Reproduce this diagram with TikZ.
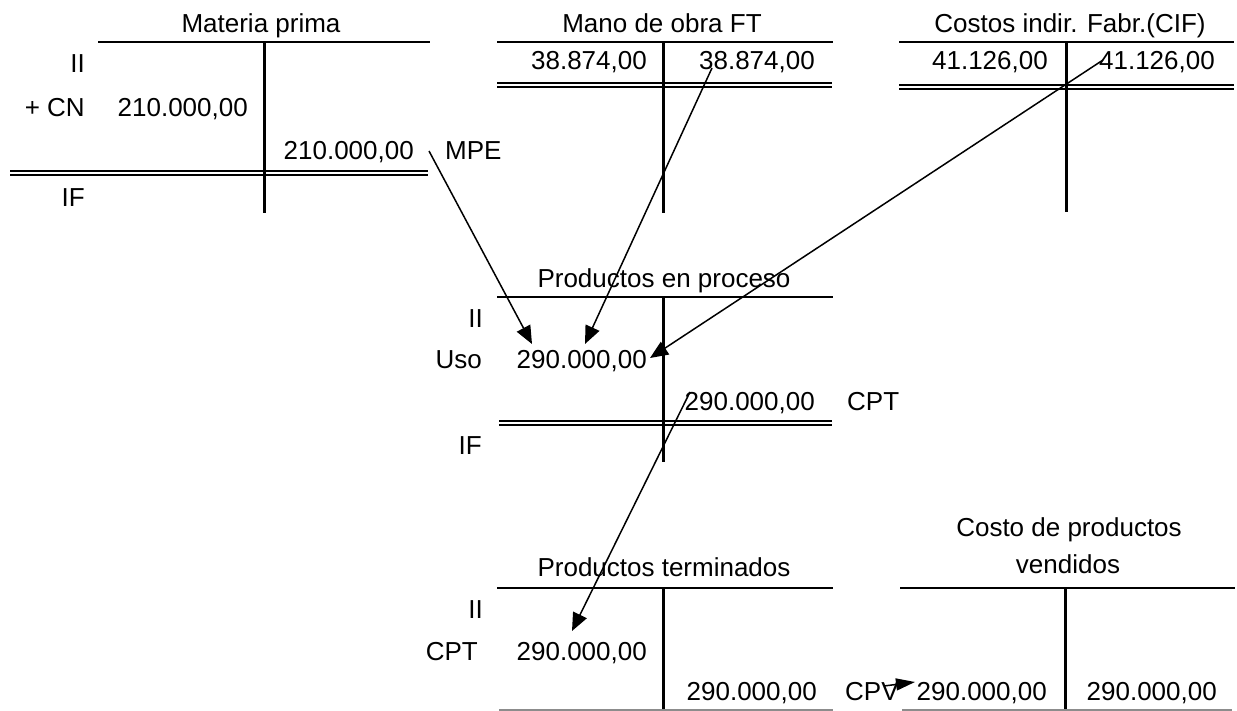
\documentclass[tikz,border=0pt]{standalone}
\usepackage{fontspec}
\setmainfont{Liberation Sans}
\usetikzlibrary{arrows.meta}
\begin{document}
\begin{tikzpicture}[x=1pt,y=-1pt,
  txt/.style={inner sep=0pt,font=\fontsize{26}{31}\selectfont},
  re/.style={txt,anchor=base east},
  lw/.style={txt,anchor=base west},
  ttl/.style={txt,anchor=base},
  topline/.style={line width=2.6pt},
  vline/.style={line width=3pt},
  dbl/.style={line width=1.9pt},
  endline/.style={line width=1.5pt,draw=black!45},
  flow/.style={line width=1.5pt,-{Triangle[length=18pt,width=15pt]}},
  flowsmall/.style={line width=1.5pt,-{Triangle[length=19pt,width=12pt]}}]
\useasboundingbox (0,0) rectangle (1237,711);

% ---------- Materia prima ----------
\node[ttl] (mpT) at (261,33) {Materia prima};
\draw[topline] (98,42) -- (430,42);
\draw[vline] (264,42) -- (264,213);
\draw[dbl] (10,171) -- (428,171);
\draw[dbl] (10,174.8) -- (428,174.8);
\node[re] (mpII) at (85,73) {II};
\node[re] (mpCN) at (85,117) {+ CN};
\node[re] (mpD) at (248,117) {210.000,00};
\node[re] (mpH) at (414,160) {210.000,00};
\node[lw] (mpe) at (445,160) {MPE};
\node[re] (mpIF) at (85,207) {IF};

% ---------- Mano de obra FT ----------
\node[ttl] (moT) at (662,33) {Mano de obra FT};
\draw[topline] (497,42) -- (833,42);
\draw[vline] (663,42) -- (663,213);
\draw[dbl] (497,83) -- (832,83);
\draw[dbl] (497,86.8) -- (832,86.8);
\node[re] (moD) at (647,70) {38.874,00};
\node[re] (moH) at (815,70) {38.874,00};

% ---------- CIF ----------
\node[ttl] (cifT) at (1070,33) {Costos indir. Fabr.(CIF)};
\draw[topline] (899,42) -- (1234,42);
\draw[vline] (1066,42) -- (1066,212);
\draw[dbl] (899,85) -- (1234,85);
\draw[dbl] (899,88.8) -- (1234,88.8);
\node[re] (cifD) at (1048,70) {41.126,00};
\node[re] (cifH) at (1215,70) {41.126,00};

% ---------- Productos en proceso ----------
\node[ttl] (ppT) at (664,288) {Productos en proceso};
\draw[topline] (497,297) -- (833,297);
\draw[vline] (663,297) -- (663,462);
\draw[dbl] (499,421) -- (832,421);
\draw[dbl] (499,424.8) -- (832,424.8);
\node[re] (ppII) at (483,327) {II};
\node[re] (ppUso) at (482,368) {Uso};
\node[re] (ppD) at (647,368) {290.000,00};
\node[re] (ppH) at (815,410) {290.000,00};
\node[lw] (ppCPT) at (847,410) {CPT};
\node[re] (ppIF) at (482,454) {IF};

% ---------- Productos terminados ----------
\node[ttl] (ptT) at (664,576) {Productos terminados};
\draw[topline] (497,588) -- (833,588);
\draw[vline] (663,588) -- (663,711);
\draw[endline] (499,710) -- (833,710);
\node[re] (ptII) at (483,618) {II};
\node[re] (ptCPT) at (478,660) {CPT};
\node[re] (ptD) at (647,660) {290.000,00};
\node[re] (ptH) at (817,700) {290.000,00};
\node[lw] (ptCPV) at (845,700) {CPV};

% ---------- Costo de productos vendidos ----------
\node[ttl] (cpvT1) at (1069,536) {Costo de productos};
\node[ttl] (cpvT2) at (1068,573) {vendidos};
\draw[topline] (900,588) -- (1235,588);
\draw[vline] (1065,588) -- (1065,711);
\draw[endline] (902,710) -- (1232,710);
\node[re] (cpvD) at (1047,700) {290.000,00};
\node[re] (cpvH) at (1217,700) {290.000,00};

% ---------- connectors ----------
\coordinate (a1s) at (429,151);
\coordinate (a1e) at (532,344);
\coordinate (a2s) at (712,68);
\coordinate (a2e) at (585,344);
\coordinate (a3s) at (1103,60);
\coordinate (a3e) at (650,358);
\coordinate (a4s) at (690,392);
\coordinate (a4e) at (572,631);
\coordinate (a5s) at (884,686);
\coordinate (a5e) at (915,682);
\draw[flow] (a1s) -- (a1e);
\draw[flow] (a2s) -- (a2e);
\draw[flow] (a3s) -- (a3e);
\draw[flow] (a4s) -- (a4e);
\draw[flowsmall] (a5s) -- (a5e);
\end{tikzpicture}
\end{document}
